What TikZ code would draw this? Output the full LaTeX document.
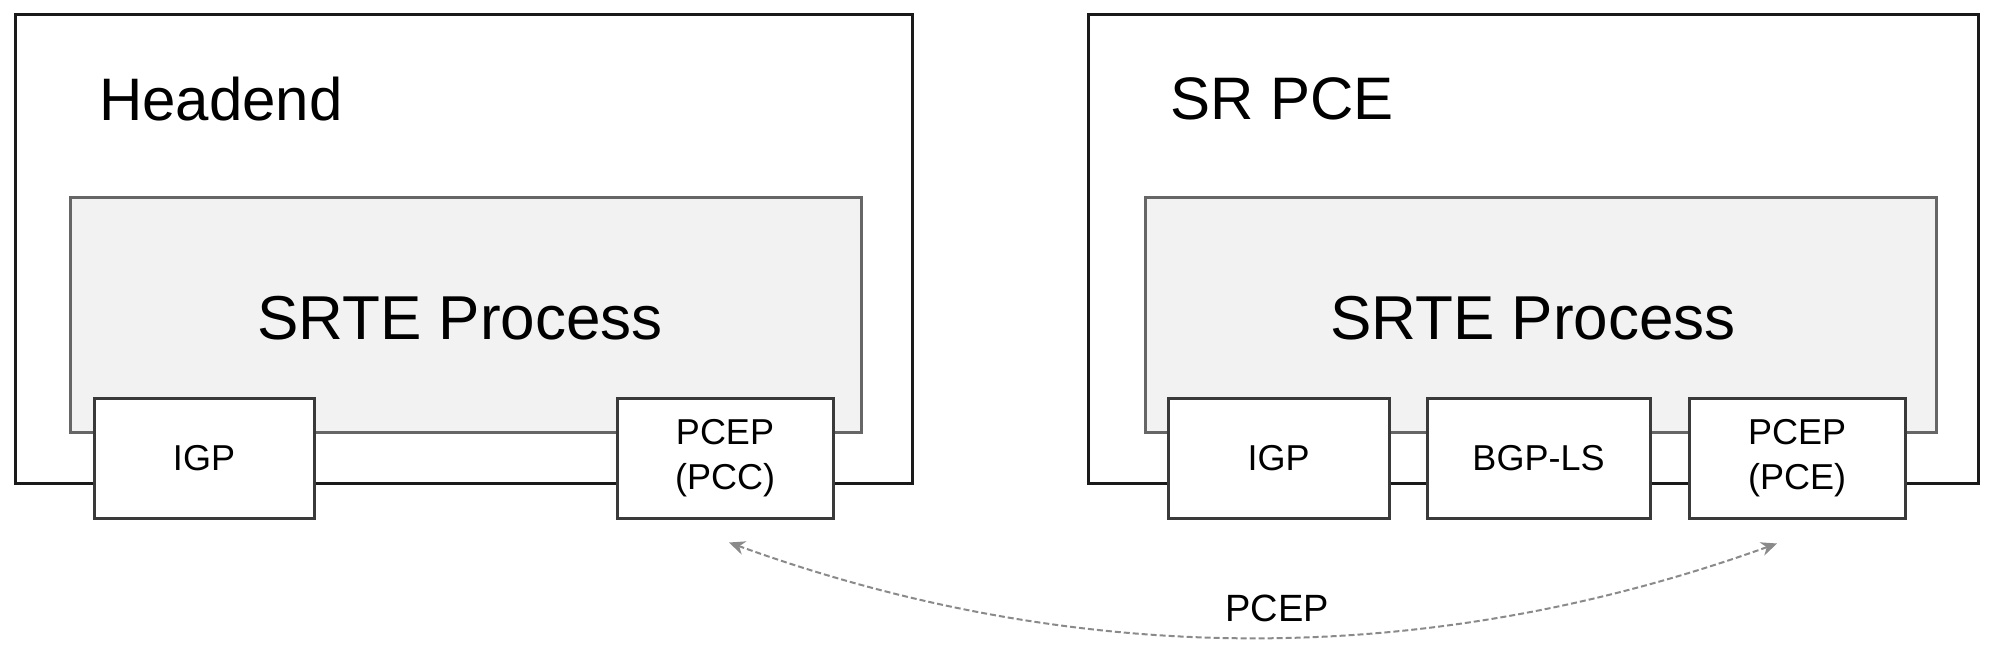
\documentclass[tikz,border=0pt]{standalone}
\usepackage{fontspec}
\setmainfont{Liberation Sans}
\usetikzlibrary{arrows.meta}
\definecolor{outerc}{HTML}{1A1A1A}
\definecolor{procc}{HTML}{666666}
\definecolor{procfill}{HTML}{F2F2F2}
\definecolor{boxc}{HTML}{3A3A3A}
\definecolor{arrc}{HTML}{8A8A8A}
\tikzset{
  outerbox/.style={draw=outerc, line width=3pt, fill=white, rectangle, inner sep=0pt},
  procbox/.style={draw=procc, line width=3pt, fill=procfill, rectangle, inner sep=0pt},
  modbox/.style={draw=boxc, line width=3pt, fill=white, rectangle, inner sep=0pt,
    minimum width=220pt, minimum height=120pt, font=\fontsize{36pt}{45pt}\selectfont, align=center},
  titletext/.style={font=\fontsize{60pt}{72pt}\selectfont, anchor=west, inner sep=0pt},
  proctext/.style={font=\fontsize{62pt}{74pt}\selectfont, inner sep=0pt},
  arr/.style={draw=arrc, line width=2pt, dash pattern=on 6pt off 3pt,
    {Stealth[length=16pt,width=14pt]}-{Stealth[length=16pt,width=14pt]}},
  lbl/.style={font=\fontsize{38pt}{46pt}\selectfont, inner sep=0pt}
}
\begin{document}
\begin{tikzpicture}[x=1pt,y=-1pt]
\useasboundingbox (0,0) rectangle (1994,661);
% left side
\node[outerbox, minimum width=897pt, minimum height=468pt] (outerL) at (463.5,249) {};
\node[titletext] (headend) at (99,99) {Headend};
\node[procbox, minimum width=791pt, minimum height=235pt] (procL) at (465.5,314.5) {};
\node[proctext] (proctL) at (460,318) {SRTE Process};
\node[modbox] (igpL) at (204,458) {IGP};
\node[modbox, minimum width=216pt] (pcc) at (725,458) {PCEP\\(PCC)};
% right side
\node[outerbox, minimum width=890pt, minimum height=468pt] (outerR) at (1533,249) {};
\node[titletext] (srpce) at (1170,99) {SR PCE};
\node[procbox, minimum width=791pt, minimum height=235pt] (procR) at (1540.5,314.5) {};
\node[proctext] (proctR) at (1533,318) {SRTE Process};
\node[modbox, minimum width=221pt] (igpR) at (1278.5,458) {IGP};
\node[modbox, minimum width=223pt] (bgpls) at (1538.5,458) {BGP-LS};
\node[modbox, minimum width=216pt] (pce) at (1797,458) {PCEP\\(PCE)};
% connector
\draw[arr] ([shift={(4,23)}]pcc.south) .. controls (1078,669) and (1428,669) .. ([shift={(-20,24)}]pce.south);
\node[lbl] (pceplbl) at (1277,608) {PCEP};
\end{tikzpicture}
\end{document}
